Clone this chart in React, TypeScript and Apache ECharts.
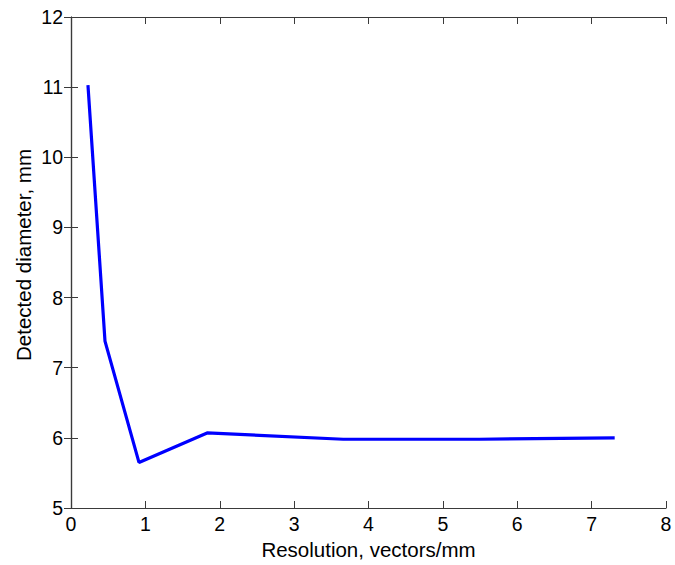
import React, { useEffect, useRef } from "react";
import * as echarts from "echarts";

const resolution = [0.228, 0.457, 0.914, 1.83, 3.66, 5.49, 7.31];
const diameter = [11.03, 7.38, 5.65, 6.07, 5.98, 5.98, 6.0];
const xLabel = "Resolution, vectors/mm";
const yLabel = "Detected diameter, mm";

const FONT = "'Liberation Sans', Arial, Helvetica, sans-serif";
const AX = "#3a3a3a";

export default function App() {
  const ref = useRef<HTMLDivElement>(null);
  useEffect(() => {
    if (!ref.current) return;
    const chart = echarts.init(ref.current, null, { renderer: "svg" });
    const common = {
      type: "value" as const,
      axisLine: { show: true, lineStyle: { color: AX, width: 1.2 } },
      axisTick: { show: true, inside: true, length: 7, lineStyle: { color: AX, width: 1 } },
      splitLine: { show: false },
    };
    chart.setOption({
      animation: false,
      backgroundColor: "#ffffff",
      grid: { left: 71, right: 9, top: 17, bottom: 57 },
      graphic: [
        {
          type: "text",
          x: 23,
          y: 255,
          rotation: Math.PI / 2,
          style: {
            text: yLabel,
            fontFamily: FONT,
            fontSize: 20.5,
            fill: "#000",
            align: "center",
            verticalAlign: "middle",
          },
        },
      ],
      xAxis: [
        {
          ...common,
          min: 0,
          max: 8,
          interval: 1,
          position: "bottom",
          name: xLabel,
          nameLocation: "middle",
          nameGap: 29,
          nameTextStyle: { fontFamily: FONT, fontSize: 20.5, color: "#000" },
          axisLabel: { fontFamily: FONT, fontSize: 19.5, color: "#000", margin: 6 },
        },
        {
          ...common,
          min: 0,
          max: 8,
          interval: 1,
          position: "top",
          axisLabel: { show: false },
        },
      ],
      yAxis: [
        {
          ...common,
          min: 5,
          max: 12,
          interval: 1,
          position: "left",
          axisLabel: { fontFamily: FONT, fontSize: 19.5, color: "#000", margin: 8 },
        },
        {
          ...common,
          min: 5,
          max: 12,
          interval: 1,
          position: "right",
          axisLabel: { show: false },
        },
      ],
      series: [
        {
          type: "line",
          data: resolution.map((x, i) => [x, diameter[i]]),
          showSymbol: false,
          symbol: "none",
          lineStyle: { color: "#0000ff", width: 3.2 },
          xAxisIndex: 0,
          yAxisIndex: 0,
        },
      ],
    });
    return () => chart.dispose();
  }, []);
  return (
    <div
      ref={ref}
      style={{ position: "fixed", left: 0, top: 0, width: 675, height: 565, background: "#fff" }}
    />
  );
}
